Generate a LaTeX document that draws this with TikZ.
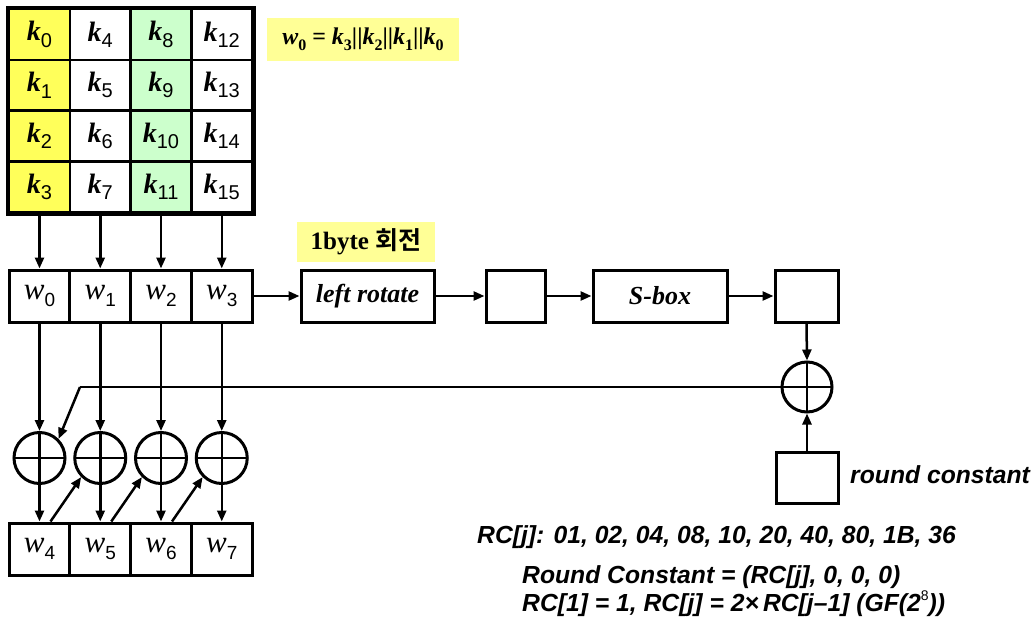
\documentclass[tikz,border=0pt]{standalone}
\usepackage{fontspec}
\setmainfont{Liberation Serif}
\setsansfont{Liberation Sans}
\newfontfamily\kr{Noto Sans CJK KR}[BoldFont={Noto Sans CJK KR Bold}]
\usetikzlibrary{arrows.meta}
\definecolor{kyellow}{RGB}{255,255,90}
\definecolor{kgreen}{RGB}{204,255,204}
\definecolor{labyellow}{RGB}{255,255,150}
\newcommand\kk[1]{{\fontsize{28}{30}\selectfont\bfseries\itshape k}\raisebox{-0.25em}{\fontsize{20}{20}\selectfont\sffamily\mdseries\upshape #1}}
\newcommand\ww[1]{{\fontsize{31}{32}\selectfont\itshape w}\raisebox{-0.25em}{\fontsize{19}{19}\selectfont\sffamily\mdseries\upshape #1}}
\newcommand\lk[2]{{\bfseries\itshape #1}\raisebox{-0.25em}{\fontsize{16}{16}\selectfont\bfseries\upshape #2}}
\begin{document}
\begin{tikzpicture}[x=1pt,y=-1pt,
 cell/.style={draw,line width=2.5pt,minimum width=60.75pt,minimum height=50.75pt,inner sep=0pt,font=\fontsize{25}{28}\selectfont},
 wbox/.style={draw,line width=3pt,minimum width=60.75pt,minimum height=52pt,inner sep=0pt,font=\fontsize{25}{28}\selectfont},
 pbox/.style={draw,line width=3pt,minimum height=52pt,inner sep=0pt,font=\fontsize{26}{28}\selectfont\bfseries\itshape},
 arr/.style={line width=2.5pt,-{Triangle[length=11pt,width=9pt]}},
 plain/.style={line width=2.5pt},
 xorc/.style={draw,circle,line width=3pt,minimum size=51pt,inner sep=0pt,
   path picture={\draw[line width=2.5pt] (path picture bounding box.north)--(path picture bounding box.south) (path picture bounding box.west)--(path picture bounding box.east);}},
 lab/.style={fill=labyellow,inner sep=0pt},
 rctext/.style={anchor=west,inner sep=0pt,font=\sffamily\bfseries\itshape\fontsize{24.7}{28}\selectfont}
]
\useasboundingbox (0,0) rectangle (1036,621);
% key grid
\foreach \i/\c in {0/kyellow,1/white,2/kgreen,3/white}{
  \foreach \r in {0,1,2,3}{
    \pgfmathtruncatemacro{\n}{4*\i+\r}
    \node[cell,fill=\c] (k\n) at (39.5+60.75*\i,34.5+50.75*\r) {\kk{\n}};
  }
}
\draw[line width=4.5pt] (k0.north west) rectangle (k15.south east);
% w rows
\foreach \i in {0,1,2,3}{
  \pgfmathtruncatemacro{\m}{\i+4}
  \node[wbox] (w\i) at (39.5+60.75*\i,296) {\ww{\i}};
  \node[wbox] (w\m) at (39.5+60.75*\i,549) {\ww{\m}};
  \node[xorc] (x\i) at (39.5+60.75*\i,458) {};
}
% labels
\node[lab,minimum width=192pt,minimum height=43pt] (wl) at (363,39.5)
  {\fontsize{24}{26}\selectfont\lk{w}{0} {\bfseries=} \lk{k}{3}{\bfseries||}\lk{k}{2}{\bfseries||}\lk{k}{1}{\bfseries||}\lk{k}{0}};
\node[lab,minimum width=138pt,minimum height=40pt] (bl) at (366,242)
  {\fontsize{25}{28}\selectfont\bfseries 1byte {\kr\bfseries 회전}};
% process boxes
\node[pbox,minimum width=133pt] (lr) at (367.5,296) {left rotate};
\node[pbox,minimum width=59pt] (b1) at (515.5,296) {};
\node[pbox,minimum width=134pt] (sb) at (660,296) {S-box};
\node[pbox,minimum width=63pt] (b2) at (806.5,296) {};
\node[xorc,minimum size=50pt] (xr) at (807,387) {};
\node[pbox,minimum width=62pt,minimum height=51pt] (rc) at (807,477.5) {};
% texts
\node[rctext] (rct) at (850,475) {round constant};
\node[rctext] (t1) at (477,537) {RC[j]: 01, 02, 04, 08, 10, 20, 40, 80, 1B, 36};
\node[rctext] (t2) at (522,577) {Round Constant = (RC[j], 0, 0, 0)};
\node[rctext] (t3) at (522,604) {RC[1] = 1, RC[j] = 2×\,RC[j–1] (GF(2\raisebox{0.45em}{\fontsize{14}{14}\selectfont\mdseries\upshape 8}))};
% arrows
\foreach \i in {0,1,2,3}{
  \pgfmathtruncatemacro{\b}{4*\i+3}
  \pgfmathtruncatemacro{\m}{\i+4}
  \draw[arr] (k\b.south) -- (w\i.north);
  \draw[arr] (w\i.south) -- (x\i.north);
  \draw[arr] (x\i.south) -- (w\m.north);
}
\draw[arr] ([xshift=11pt]w4.north) -- (x1.225);
\draw[arr] ([xshift=11pt]w5.north) -- (x2.225);
\draw[arr] ([xshift=11pt]w6.north) -- (x3.225);
\draw[arr] (w3.east) -- (lr.west);
\draw[arr] (lr.east) -- (b1.west);
\draw[arr] (b1.east) -- (sb.west);
\draw[arr] (sb.east) -- (b2.west);
\draw[arr] (b2.south) -- (xr.north);
\draw[arr] (rc.north) -- (xr.south);
\coordinate (c) at (80,387);
\draw[plain] (xr.west) -- (c);
\draw[arr] (c) -- (x0.45);
\end{tikzpicture}
\end{document}
